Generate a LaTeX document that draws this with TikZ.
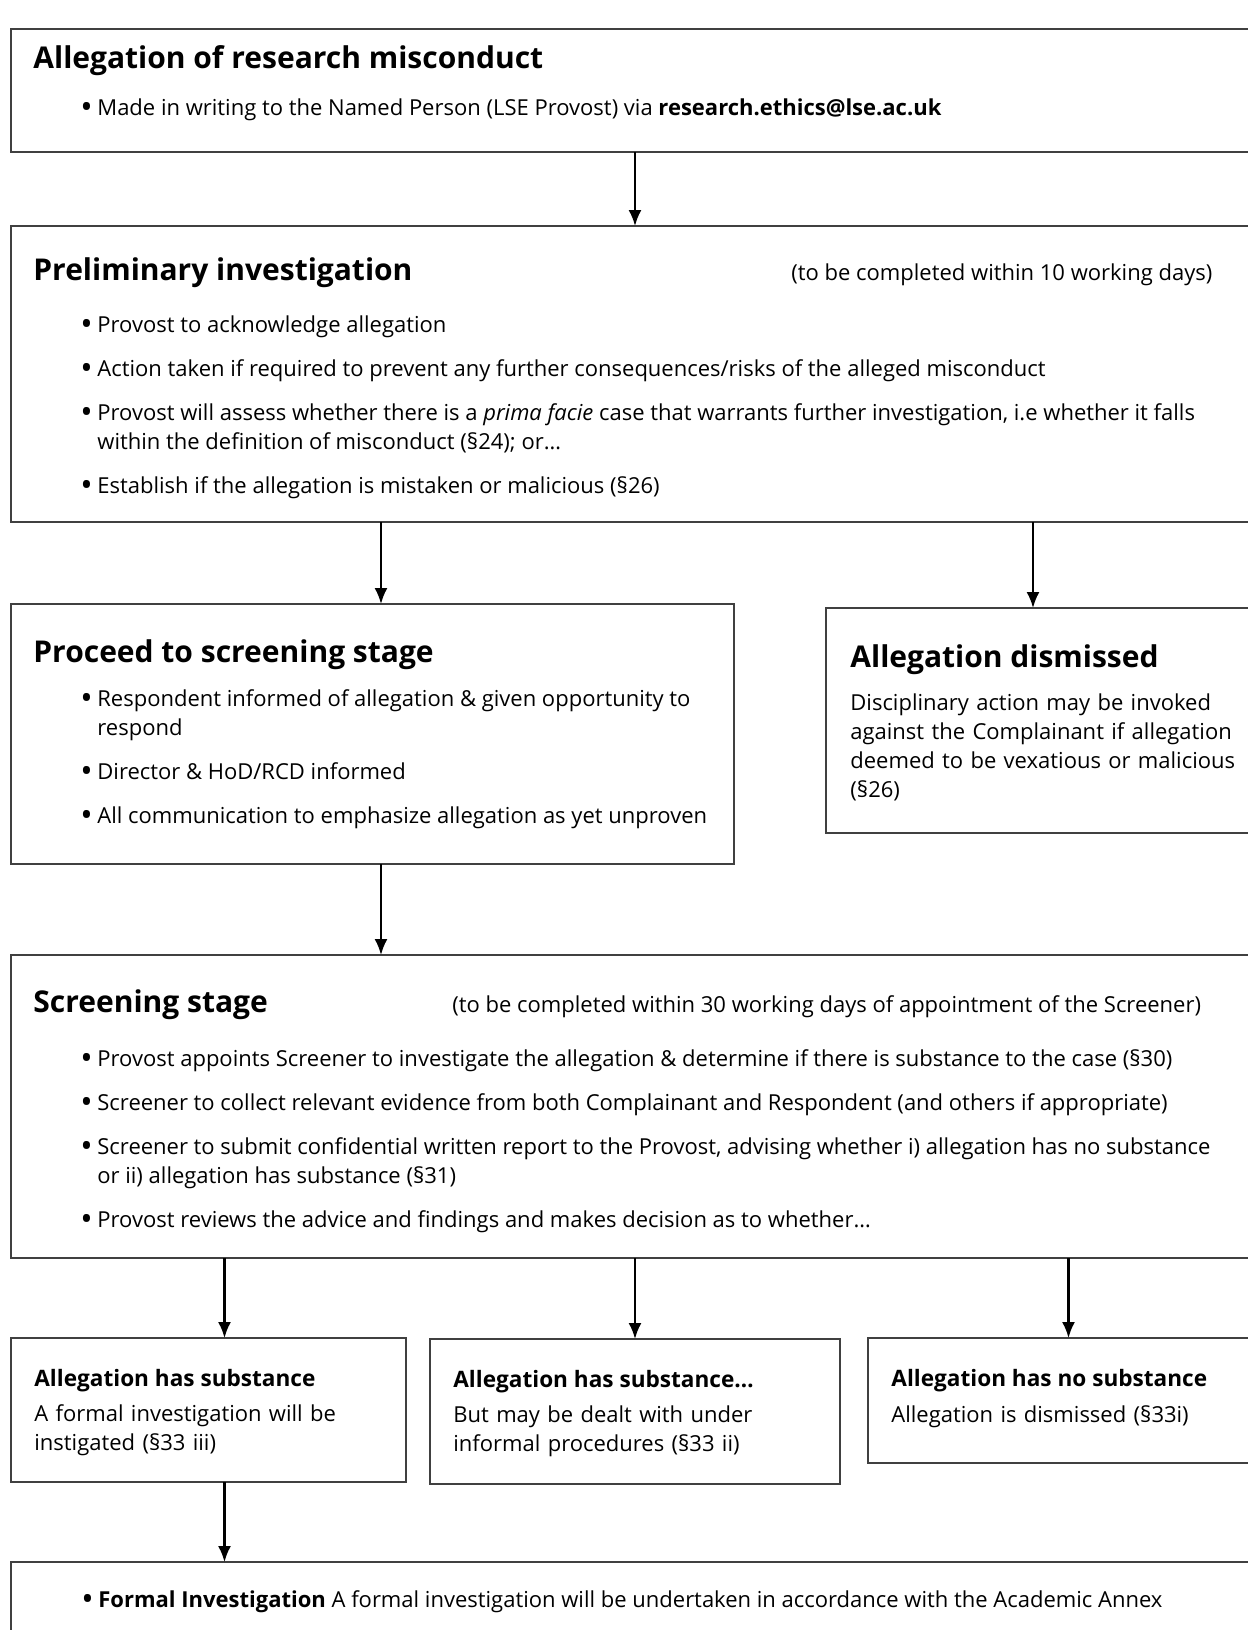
\documentclass[tikz,border=0pt]{standalone}
\usepackage{fontspec}
\usepackage{graphicx}
\setmainfont{Open Sans}
\usetikzlibrary{arrows.meta}

\newcommand{\bodyfont}{\fontsize{11}{14.5}\selectfont}
\newcommand{\headfont}{\fontsize{15}{18}\selectfont\bfseries}
\newcommand{\subheadfont}{\fontsize{11.3}{14}\selectfont\bfseries}
\newcommand{\bulmark}{\raisebox{-1.6pt}{\scalebox{1.5}{\textbullet}}}
\newcommand{\bul}{\par\noindent\hangindent=8.5pt\hangafter=1\makebox[8.5pt][l]{\bulmark}}
\newcommand{\bullist}[1]{\parbox[t]{590pt}{\bodyfont\setlength{\parskip}{7.5pt}\rightskip=0pt plus 1fil #1}}

\begin{document}
\begin{tikzpicture}[x=0.5pt,y=-0.5pt,
    box/.style={draw=black!75,line width=0.65pt,anchor=north west,inner sep=0pt,outer sep=0pt},
    head/.style={anchor=base west,inner sep=0pt,font=\headfont},
    subhead/.style={anchor=base west,inner sep=0pt,font=\subheadfont},
    body/.style={anchor=base west,inner sep=0pt,text width=300pt,align=left,font=\bodyfont},
    note/.style={anchor=base west,inner sep=0pt,font=\bodyfont},
    list/.style={anchor=base west,inner sep=0pt},
    arr/.style={-{Latex[length=8pt,width=6.5pt]},line width=1.1pt}]
    \useasboundingbox (0,0) rectangle (1248,1630);
    \fill[white] (0,0) rectangle (1248,1630);
    \clip (0,0) rectangle (1248,1630);

    % boxes
    \node[box,minimum width=624pt,minimum height=61.5pt] (alleg) at (11,29) {};
    \node[box,minimum width=624pt,minimum height=148pt] (prelim) at (11,226) {};
    \node[box,minimum width=361.5pt,minimum height=130pt] (proceed) at (11,604) {};
    \node[box,minimum width=222pt,minimum height=112.5pt] (dismissed) at (826,608) {};
    \node[box,minimum width=624pt,minimum height=151.5pt] (screen) at (11,955) {};
    \node[box,minimum width=197.5pt,minimum height=72pt] (subst) at (11,1338) {};
    \node[box,minimum width=205pt,minimum height=72.5pt] (informal) at (430,1339) {};
    \node[box,minimum width=201pt,minimum height=62.5pt] (nosubst) at (868,1338) {};
    \node[box,minimum width=624pt,minimum height=44pt] (investig) at (11,1562) {};

    % texts
    \node[head] (allegh) at (33,68) {Allegation of research misconduct};
    \node[list] (allegl) at (80,115) {\bullist{\bul Made in writing to the Named Person (LSE Provost) via \textbf{research.ethics@lse.ac.uk}}};

    \node[head] (prelimh) at (33,280) {Preliminary investigation};
    \node[note] (prelimt) at (791,280) {(to be completed within 10 working days)};
    \node[list] (preliml) at (80,332) {\bullist{%
        \bul Provost to acknowledge allegation
        \bul Action taken if required to prevent any further consequences/risks of the alleged misconduct
        \bul Provost will assess whether there is a \textit{prima facie} case that warrants further investigation, i.e whether it falls\\
             within the definition of misconduct (§24); or…
        \bul Establish if the allegation is mistaken or malicious (§26)}};

    \node[head] (proceedh) at (33,662) {Proceed to screening stage};
    \node[list] (proceedl) at (80,706) {\bullist{%
        \bul Respondent informed of allegation \& given opportunity to\\ respond
        \bul Director \& HoD/RCD informed
        \bul All communication to emphasize allegation as yet unproven}};

    \node[head] (dismissedh) at (850,667) {Allegation dismissed};
    \node[body] (dismissedt) at (850,710) {Disciplinary action may be invoked\\
        against the Complainant if allegation\\ deemed to be vexatious or malicious\\ (§26)};

    \node[head] (screenh) at (33,1012) {Screening stage};
    \node[note] (screent) at (452,1012) {(to be completed within 30 working days of appointment of the Screener)};
    \node[list] (screenl) at (80,1066) {\bullist{%
        \bul Provost appoints Screener to investigate the allegation \& determine if there is substance to the case (§30)
        \bul Screener to collect relevant evidence from both Complainant and Respondent (and others if appropriate)
        \bul Screener to submit confidential written report to the Provost, advising whether i) allegation has no substance\\
             or ii) allegation has substance (§31)
        \bul Provost reviews the advice and findings and makes decision as to whether…}};

    \node[subhead] (substh) at (34,1386) {Allegation has substance};
    \node[body] (substt) at (34,1421) {A formal investigation will be\\ instigated (§33 iii)};
    \node[subhead] (informalh) at (453,1387) {Allegation has substance…};
    \node[body] (informalt) at (453,1422) {But may be dealt with under\\ informal procedures (§33 ii)};
    \node[subhead] (nosubsth) at (891,1386) {Allegation has no substance};
    \node[body] (nosubstt) at (891,1422) {Allegation is dismissed (§33i)};

    \node[list] (investigl) at (81,1607) {\bullist{\bul \textbf{Formal Investigation} A formal investigation will be undertaken in accordance with the Academic Annex}};

    % connectors
    \coordinate (xa) at (381,0);
    \coordinate (xb) at (1033,0);
    \coordinate (xc) at (224.5,0);
    \coordinate (xd) at (1068.5,0);
    \draw[arr] (alleg) -- (prelim);
    \draw[arr] (prelim.south -| xa) -- (proceed.north -| xa);
    \draw[arr] (prelim.south -| xb) -- (dismissed.north -| xb);
    \draw[arr] (proceed.south -| xa) -- (screen.north -| xa);
    \draw[arr] (screen.south -| xc) -- (subst.north -| xc);
    \draw[arr] (screen.south -| informal.north) -- (informal.north);
    \draw[arr] (screen.south -| xd) -- (nosubst.north -| xd);
    \draw[arr] (subst.south -| xc) -- (investig.north -| xc);
\end{tikzpicture}
\end{document}
